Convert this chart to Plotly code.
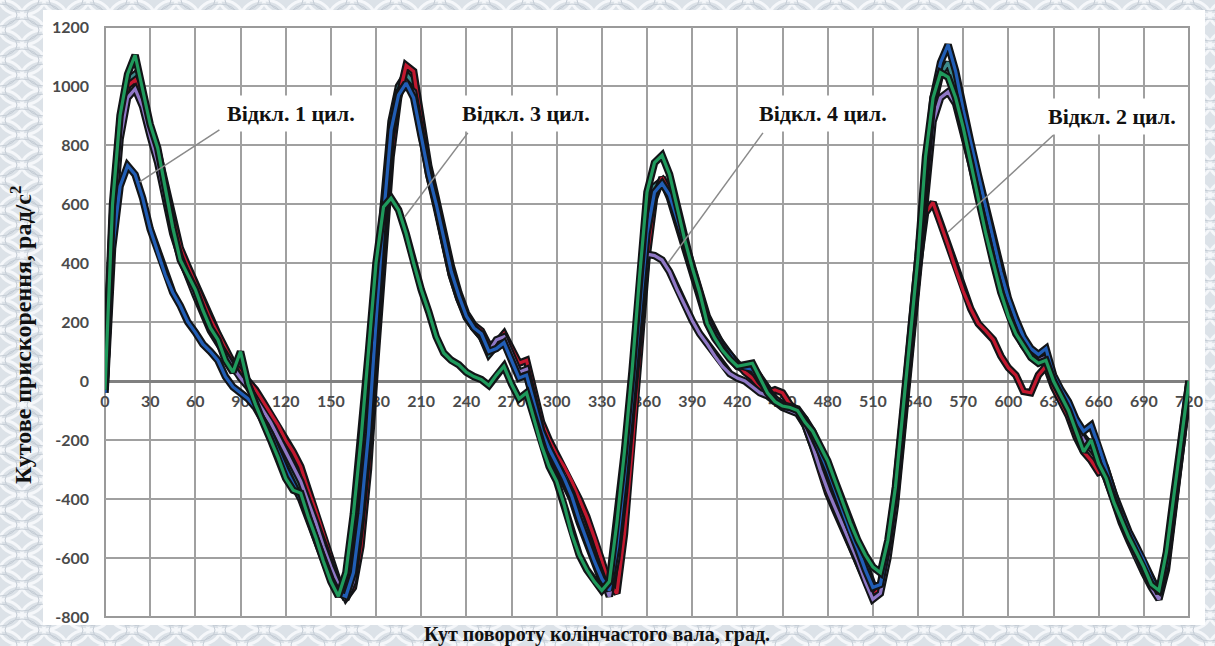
import base64
import plotly.graph_objects as go

# Crank angle grid, degrees (5-degree sampling over a full 720-degree cycle)
angles = list(range(0, 721, 5))

# Angular acceleration, rad/s^2, one row per 60 degrees
all_cyl = [
    -20, 560, 880, 1020, 1040, 960, 850, 760, 640, 520, 420, 360,
    300, 240, 180, 140, 80, 40, 20, -10, -60, -110, -160, -210,
    -270, -320, -370, -440, -510, -590, -650, -710, -720, -620, -400, -120,
    250, 600, 880, 1000, 1040, 1010, 850, 700, 600, 470, 360, 280,
    215, 180, 150, 90, 120, 140, 80, 20, 30, -90, -180, -240,
    -290, -340, -400, -480, -550, -620, -680, -700, -520, -300, -40, 260,
    520, 660, 680, 620, 540, 460, 380, 300, 200, 150, 110, 80,
    50, 40, 50, 10, -30, -60, -80, -90, -100, -130, -170, -230,
    -290, -360, -430, -500, -560, -620, -690, -700, -580, -400, -150, 120,
    380, 700, 930, 1040, 1080, 1000, 880, 770, 650, 540, 430, 330,
    250, 180, 130, 100, 80, 90, 10, -40, -80, -140, -190, -220,
    -250, -320, -400, -460, -520, -570, -620, -680, -720, -600, -400, -200,
    -10,
]

cyl1_off = [
    -40, 450, 660, 730, 700, 620, 515, 440, 360, 300, 255, 200,
    165, 125, 100, 70, 15, -20, -40, -60, -90, -130, -180, -240,
    -300, -350, -400, -470, -540, -610, -670, -720, -730, -650, -450, -180,
    200, 560, 850, 970, 1010, 960, 830, 700, 600, 480, 370, 290,
    220, 180, 160, 100, 110, 130, 70, 10, 20, -80, -170, -230,
    -280, -330, -390, -470, -540, -610, -670, -710, -560, -330, -60, 230,
    500, 640, 670, 630, 550, 470, 390, 310, 210, 160, 120, 90,
    55, 45, 40, 0, -35, -60, -80, -85, -95, -130, -180, -240,
    -300, -370, -440, -510, -570, -640, -700, -690, -560, -370, -120, 160,
    430, 740, 960, 1080, 1140, 1050, 920, 810, 700, 590, 480, 370,
    280, 210, 150, 110, 90, 110, 20, -30, -70, -130, -170, -150,
    -220, -300, -380, -450, -510, -560, -610, -670, -720, -620, -420, -220,
    -20,
]

cyl3_off = [
    -30, 600, 900, 1040, 1105, 990, 870, 790, 650, 520, 410, 360,
    310, 240, 180, 140, 70, 30, 100, -10, -80, -140, -200, -260,
    -330, -370, -380, -460, -530, -610, -680, -730, -650, -450, -200, 100,
    400, 590, 620, 580, 500, 400, 310, 235, 150, 95, 70, 55,
    30, 15, 5, -15, 20, 50, -10, -60, -40, -130, -220, -290,
    -340, -420, -520, -590, -640, -680, -710, -680, -480, -240, 30, 350,
    640, 740, 765, 700, 590, 480, 385, 300, 195, 145, 105, 75,
    50, 55, 60, 10, -40, -70, -85, -90, -100, -140, -170, -220,
    -270, -340, -410, -480, -540, -590, -630, -650, -540, -360, -100, 150,
    420, 760, 960, 1045, 1030, 960, 860, 740, 620, 500, 400, 300,
    220, 160, 120, 80, 60, 70, 0, -50, -100, -170, -240, -200,
    -280, -330, -410, -470, -530, -580, -630, -690, -710, -580, -380, -180,
    0,
]

cyl4_off = [
    -20, 520, 820, 960, 990, 930, 830, 740, 620, 500, 420, 350,
    290, 230, 170, 130, 90, 45, 10, -20, -60, -100, -140, -190,
    -240, -290, -340, -410, -480, -560, -630, -690, -740, -680, -480, -220,
    150, 500, 820, 980, 1000, 980, 820, 700, 590, 470, 360, 280,
    220, 180, 150, 100, 140, 150, 90, 30, 40, -80, -170, -230,
    -280, -320, -380, -450, -520, -590, -660, -730, -600, -380, -100, 200,
    430, 425, 410, 370, 310, 255, 205, 160, 125, 85, 50, 25,
    10, 0, -20, -40, -50, -70, -90, -100, -110, -150, -220, -300,
    -370, -430, -490, -550, -610, -680, -740, -720, -600, -420, -170, 100,
    360, 640, 880, 960, 980, 940, 850, 740, 630, 520, 420, 320,
    240, 170, 120, 90, 70, 80, 0, -40, -90, -150, -200, -230,
    -260, -330, -410, -480, -540, -600, -650, -700, -740, -640, -430, -220,
    -10,
]

cyl2_off = [
    -10, 540, 860, 1000, 1020, 960, 860, 780, 670, 550, 450, 390,
    330, 270, 210, 160, 110, 60, 30, 0, -30, -70, -110, -150,
    -200, -240, -290, -370, -440, -520, -600, -680, -735, -700, -560, -300,
    80, 420, 760, 960, 1070, 1050, 880, 730, 620, 500, 390, 300,
    230, 190, 170, 120, 130, 160, 110, 60, 70, -40, -140, -200,
    -250, -290, -340, -400, -460, -530, -610, -690, -720, -520, -240, 100,
    420, 620, 690, 640, 560, 480, 400, 320, 220, 170, 120, 90,
    60, 30, 10, -20, -40, -30, -40, -80, -100, -150, -220, -310,
    -380, -440, -500, -560, -620, -680, -730, -700, -570, -380, -130, 150,
    380, 570, 605, 535, 460, 380, 305, 245, 195, 170, 140, 85,
    45, 20, -35, -40, 20, 50, -20, -70, -120, -190, -240, -270,
    -310, -300, -390, -460, -520, -570, -630, -690, -730, -620, -420, -210,
    0,
]

series = [
    ("Усі циліндри", all_cyl, "#3d8a8c"),
    ("Відкл. 2 цил.", cyl2_off, "#c2182f"),
    ("Відкл. 4 цил.", cyl4_off, "#8f78c6"),
    ("Відкл. 1 цил.", cyl1_off, "#215eb6"),
    ("Відкл. 3 цил.", cyl3_off, "#1f9a5c"),
]

# Callouts: label, pointed curve location (deg, value), label centre (deg, value),
# leader start (deg, value)
callout_labels = ["Відкл. 1 цил.", "Відкл. 3 цил.", "Відкл. 4 цил.", "Відкл. 2 цил."]
callout_tip_x = [23, 199, 374, 560]
callout_tip_y = [675, 556, 400, 505]
callout_text_x = [123.5, 279.6, 477, 669]
callout_text_y = [908, 908, 908, 898]
callout_tail_x = [76, 241, 437, 630]
callout_tail_y = [851, 841, 841, 834]

x_ticks = list(range(0, 721, 30))
y_ticks = [-800, -600, -400, -200, 0, 200, 400, 600, 800, 1000, 1200]
y_tick_text = ["-800", "-600", "-400", "-200", "0", "200", "400", "600", "800", "1000", "1200"]

W, H = 1215, 646
ML, MR, MT, MB = 105, 26, 27, 29
PW, PH = W - ML - MR, H - MT - MB

fig = go.Figure()
for name, vals, color in series:
    fig.add_trace(go.Scatter(x=angles, y=vals, mode="lines", name=name,
                             line=dict(color="#121417", width=7.5),
                             hoverinfo="skip", showlegend=False))
    fig.add_trace(go.Scatter(x=angles, y=vals, mode="lines", name=name,
                             line=dict(color=color, width=3.2),
                             showlegend=False))

# Patterned page background
svg = f'''<svg xmlns="http://www.w3.org/2000/svg" width="{W}" height="{H}">
<defs><pattern id="p" width="44" height="30" patternUnits="userSpaceOnUse">
<rect width="44" height="30" fill="#dce2e8"/>
<g fill="none" stroke="#f5f7fa" stroke-width="3">
<ellipse cx="0" cy="15" rx="22" ry="15"/><ellipse cx="44" cy="15" rx="22" ry="15"/>
<ellipse cx="22" cy="0" rx="22" ry="15"/><ellipse cx="22" cy="30" rx="22" ry="15"/>
</g>
<g fill="none" stroke="#c4ccd5" stroke-width="1">
<ellipse cx="0" cy="15" rx="17" ry="11"/><ellipse cx="44" cy="15" rx="17" ry="11"/>
<ellipse cx="22" cy="0" rx="17" ry="11"/><ellipse cx="22" cy="30" rx="17" ry="11"/>
</g></pattern></defs>
<rect width="100%" height="100%" fill="url(#p)"/></svg>'''
bg_src = "data:image/svg+xml;base64," + base64.b64encode(svg.encode()).decode()

fig.add_layout_image(dict(source=bg_src, xref="paper", yref="paper",
                          x=-ML / PW, y=1 + MT / PH, sizex=W / PW, sizey=H / PH,
                          xanchor="left", yanchor="top", sizing="stretch",
                          layer="below"))

# White chart panel
fig.add_shape(type="rect", xref="paper", yref="paper",
              x0=(43 - ML) / PW, x1=(1205 - ML) / PW,
              y0=(MT + PH - 625) / PH, y1=(MT + PH - 10) / PH,
              fillcolor="white", line=dict(width=0), layer="below")
# Plot area frame
fig.add_shape(type="rect", xref="paper", yref="paper", x0=0, x1=1, y0=0, y1=1,
              line=dict(color="#9a9a9a", width=2), layer="below")

for i, label in enumerate(callout_labels):
    fig.add_shape(type="line", xref="x", yref="y",
                  x0=callout_tail_x[i], y0=callout_tail_y[i],
                  x1=callout_tip_x[i], y1=callout_tip_y[i],
                  line=dict(color="#8a8a8a", width=1.5), layer="above")
    fig.add_annotation(x=callout_text_x[i], y=callout_text_y[i], xref="x", yref="y",
                       text=f"<b>{label}</b>", showarrow=False,
                       font=dict(family="Liberation Serif", size=22, color="#111"),
                       bgcolor="white", borderpad=5)

fig.add_annotation(xref="paper", yref="paper", x=(21 - ML) / PW, y=(MT + PH - 335) / PH,
                   xanchor="center", yanchor="middle",
                   text="<b>Кутове прискорення, рад/с<sup>2</sup></b>", textangle=-90,
                   showarrow=False,
                   font=dict(family="Liberation Serif", size=24, color="#111"))
fig.add_annotation(xref="paper", yref="paper", x=(597 - ML) / PW, y=(MT + PH - 634) / PH,
                   xanchor="center", yanchor="middle",
                   text="<b>Кут повороту колінчастого вала, град.</b>",
                   showarrow=False,
                   font=dict(family="Liberation Serif", size=20, color="#111"))

tick_font = dict(family="Lato", size=16, color="#4a4a4a", weight="bold")
fig.update_layout(
    width=W, height=H,
    margin=dict(l=ML, r=MR, t=MT, b=MB),
    paper_bgcolor="#dce2e8",
    plot_bgcolor="rgba(0,0,0,0)",
    xaxis=dict(range=[0, 720], tickvals=x_ticks, showgrid=True,
               gridcolor="#a0a0a0", gridwidth=2, zeroline=False, showline=False,
               anchor="free", position=0.4, ticks="", ticklabelstandoff=9,
               tickfont=tick_font, layer="below traces"),
    yaxis=dict(range=[-800, 1200], tickvals=y_ticks, ticktext=y_tick_text,
               showgrid=True, gridcolor="#a0a0a0", gridwidth=2,
               zeroline=True, zerolinecolor="#808080", zerolinewidth=3,
               showline=False, ticks="", ticklabelstandoff=15,
               tickfont=tick_font, layer="below traces"),
)

fig.write_html("out.html")
